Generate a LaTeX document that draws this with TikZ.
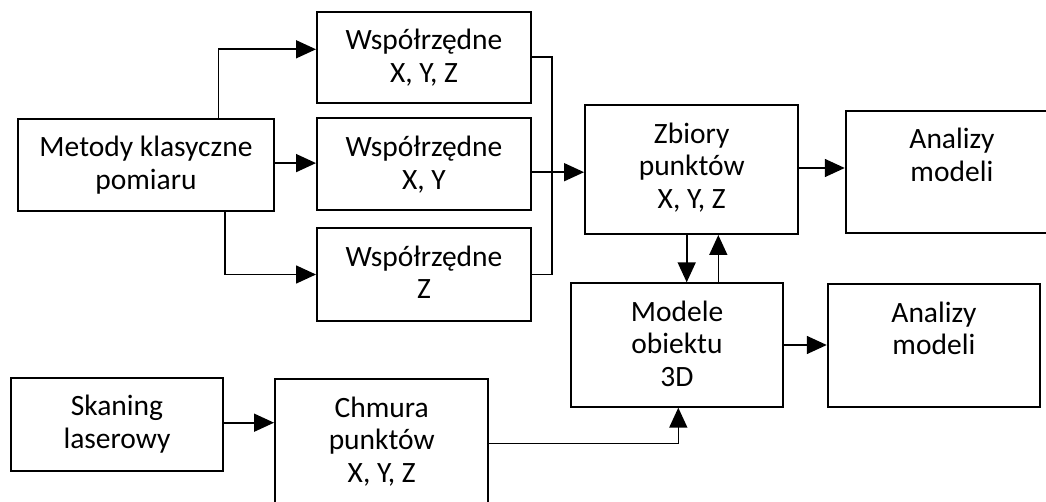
\documentclass[tikz,border=0pt]{standalone}
\usepackage{fontspec}
\setmainfont{Carlito}
\usetikzlibrary{arrows.meta, positioning}

\begin{document}
\begin{tikzpicture}[x=1pt, y=-1pt,
            blok/.style={draw, line width=2pt, inner sep=0pt},
            opis/.style={inner sep=0pt, align=center, font=\fontsize{29.5}{32.5}\selectfont},
            strz/.style={line width=1.6pt, -{Triangle[length=20pt, width=18pt]}},
            lin/.style={line width=1.6pt},
        ]
            \useasboundingbox (0,0) rectangle (1046,502);
            \clip (0,0) rectangle (1046,502);
            \node[blok, minimum width=256pt, minimum height=92.3pt]   (metody)   at (146,164.9)   {};
            \node[blok, minimum width=214pt, minimum height=91pt]     (wxyz)     at (424,57.2)    {};
            \node[blok, minimum width=214pt, minimum height=91.7pt]   (wxy)      at (424,164.2)   {};
            \node[blok, minimum width=214pt, minimum height=92.4pt]   (wz)       at (424,274.5)   {};
            \node[blok, minimum width=213.3pt, minimum height=129pt]  (zbiory)   at (691.7,169.5) {};
            \node[blok, minimum width=212.3pt, minimum height=122.6pt] (analizy1) at (951.9,172)  {};
            \node[blok, minimum width=212.6pt, minimum height=123.4pt] (modele)  at (677,345)     {};
            \node[blok, minimum width=212.3pt, minimum height=122.7pt] (analizy2) at (933.9,345.4) {};
            \node[blok, minimum width=212.6pt, minimum height=93pt]   (skaning)  at (117,424.2)   {};
            \node[blok, minimum width=213.3pt, minimum height=129pt]  (chmura)   at (381.7,443.5) {};
            \coordinate (szyna) at (551.7,0);
            \node[opis, below=18.5pt of metody.north]   (metody-t)   {Metody klasyczne\\pomiaru};
            \node[opis, below=18.5pt of wxyz.north]     (wxyz-t)     {Współrzędne\\X, Y, Z};
            \node[opis, below=18.5pt of wxy.north]      (wxy-t)      {Współrzędne\\X, Y};
            \node[opis, below=18.5pt of wz.north]       (wz-t)       {Współrzędne\\Z};
            \node[opis, below=18.5pt of zbiory.north]   (zbiory-t)   {Zbiory\\punktów\\X, Y, Z};
            \node[opis, below=18.5pt of analizy1.north] (analizy1-t) {Analizy\\modeli};
            \node[opis, below=18.5pt of modele.north]   (modele-t)   {Modele\\obiektu\\3D};
            \node[opis, below=18.5pt of analizy2.north] (analizy2-t) {Analizy\\modeli};
            \node[opis, below=18.5pt of skaning.north]  (skaning-t)  {Skaning\\laserowy};
            \node[opis, below=18.5pt of chmura.north]   (chmura-t)   {Chmura\\punktów\\X, Y, Z};
            \draw[strz] ([xshift=72.3pt]metody.north) |- ([yshift=7.9pt]wxyz.west);
            \draw[strz] ([yshift=1.8pt]metody.east) -- ([yshift=1.8pt]metody.east -| wxy.west);
            \draw[strz] ([xshift=79pt]metody.south) |- (wz.west);
            \draw[lin] (wxyz.east) -- (wxyz.east -| szyna) |- (wz.east);
            \draw[strz] ([yshift=-8pt]wxy.east) -- ([yshift=-8pt]wxy.east -| zbiory.west);
            \draw[strz] ([yshift=1.5pt]zbiory.east) -- ([yshift=1.5pt]zbiory.east -| analizy1.west);
            \draw[strz] ([xshift=-5pt]zbiory.south) -- ([xshift=-5pt]zbiory.south |- modele.north);
            \draw[strz] ([xshift=26.6pt]zbiory.south |- modele.north) -- ([xshift=26.6pt]zbiory.south);
            \draw[strz] (modele.east) -- (modele.east -| analizy2.west);
            \draw[strz] ([yshift=1.5pt]skaning.east) -- ([yshift=1.5pt]skaning.east -| chmura.west);
            \draw[strz] (chmura.east) -| ([xshift=1.3pt]modele.south);
        \end{tikzpicture}
\end{document}
